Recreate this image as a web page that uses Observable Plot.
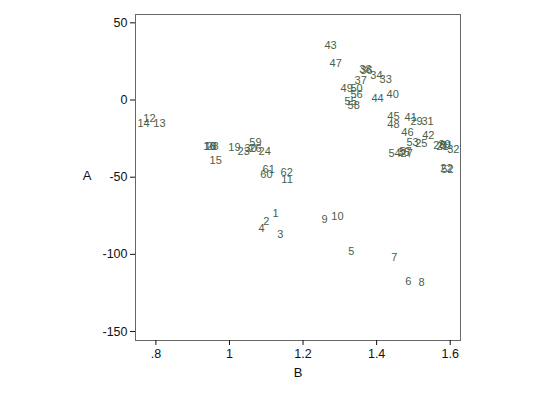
<!DOCTYPE html>
<html>
<head>
<meta charset="utf-8">
<script src="https://cdn.jsdelivr.net/npm/d3@7"></script>
<script src="https://cdn.jsdelivr.net/npm/@observablehq/plot@0.6"></script>
<style>
  html, body { margin: 0; padding: 0; background: #fff; }
  svg { font-family: "Liberation Sans", Arial, sans-serif; }
</style>
</head>
<body>
<div id="chart"></div>
<script>
const labels = [1,2,3,4,5,6,7,8,9,10,11,12,13,14,15,16,18,28,19,23,30,26,59,24,60,61,62,
  43,47,38,36,34,33,37,49,50,56,55,58,44,40,45,48,41,29,31,46,42,53,25,20,39,21,51,32,54,35,57,27,22,52];
const bValues = [1.117,1.092,1.130,1.079,1.323,1.478,1.440,1.514,1.250,1.277,1.141,0.766,0.793,0.750,0.946,0.929,0.932,0.9375,0.997,1.022,1.041,1.054,1.054,1.079,1.084,1.090,1.139,
  1.258,1.272,1.353,1.356,1.383,1.408,1.340,1.302,1.329,1.329,1.313,1.321,1.386,1.427,1.429,1.429,1.476,1.492,1.522,1.467,1.524,1.481,1.505,1.554,1.568,1.5625,1.573,1.592,1.432,1.457,1.462,1.465,1.573,1.576];
const aValues = [-73.7,-78.9,-87.4,-83.4,-98.4,-117.3,-101.7,-118.0,-77.6,-75.6,-51.5,-11.7,-15.0,-15.0,-39.1,-30.0,-30.0,-30.0,-30.6,-33.2,-31.3,-31.3,-27.4,-33.2,-48.2,-45.0,-46.9,
  35.2,23.5,19.6,18.9,15.6,13.0,12.4,7.2,7.2,3.9,-0.7,-3.3,1.3,3.3,-10.4,-15.6,-11.1,-13.7,-13.7,-20.9,-22.8,-27.4,-28.0,-29.3,-28.7,-30.0,-29.3,-31.9,-34.6,-33.9,-33.2,-34.6,-44.3,-45.0];
const xTicks = [0.8, 1, 1.2, 1.4, 1.6];
const xTickLabels = [".8", "1", "1.2", "1.4", "1.6"];
const yTicks = [-150, -100, -50, 0, 50];

const data = labels.map((l, i) => ({label: String(l), B: bValues[i], A: aValues[i]}));

const plot = Plot.plot({
  width: 540,
  height: 393,
  marginLeft: 135,
  marginRight: 80,
  marginTop: 14,
  marginBottom: 53,
  style: {fontFamily: "'Liberation Sans', Arial, sans-serif", background: "#fff"},
  x: {domain: [0.7446, 1.628]},
  y: {domain: [-155.8, 55.4]},
  marks: [
    Plot.frame({stroke: "#666", strokeWidth: 1}),
    Plot.axisX({ticks: xTicks, tickFormat: (d) => xTickLabels[xTicks.indexOf(d)], tickSize: 5, tickPadding: 4,
      fontSize: 12.5, color: "#111", label: "B", labelAnchor: "center", labelArrow: "none", labelOffset: 36}),
    Plot.axisY({ticks: yTicks, tickFormat: (d) => String(d), tickSize: 5, tickPadding: 3, fontSize: 12.5, color: "#111", label: null}),
    Plot.text(data, {x: "B", y: "A", text: "label", textAnchor: "start", fontSize: 11, fill: "#4a6046"})
  ]
});

document.getElementById("chart").appendChild(plot);

// horizontal y-axis title "A"
const svg = d3.select(plot);
const yScale = plot.scale("y");
const yMid = (yScale.range[0] + yScale.range[1]) / 2;
svg.append("text")
  .attr("x", 87)
  .attr("y", yMid)
  .attr("text-anchor", "middle")
  .attr("dominant-baseline", "middle")
  .attr("font-size", 13)
  .attr("fill", "#111")
  .text("A");
svg.selectAll("[aria-label='x-axis label'] text").attr("font-size", 13).attr("fill", "#111");
</script>
</body>
</html>
